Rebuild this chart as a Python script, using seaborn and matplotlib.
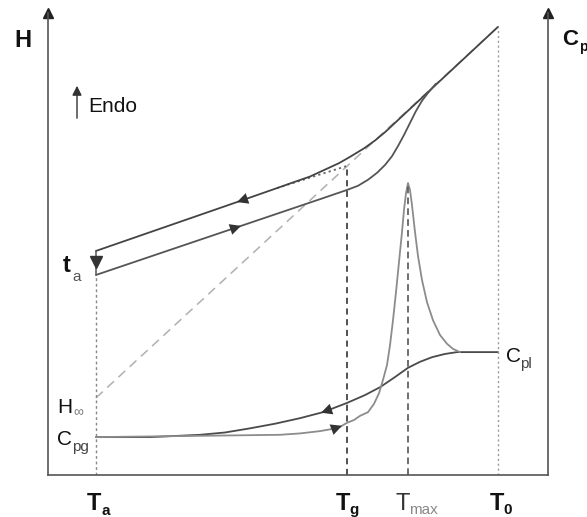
import numpy as np
import pandas as pd
import matplotlib
matplotlib.use("Agg")
import matplotlib.pyplot as plt
import seaborn as sns

# ---------------- data (arbitrary units) ----------------
T_a, T_g, T_max, T_0 = 9.6, 59.8, 72.0, 90.0

# enthalpy on cooling (glass line bending into the liquid line)
cool_H_T = [9.6, 38.4, 45.8, 49.2, 52.4, 55.4, 58.2, 60.3, 63.2, 65.4, 67.4, 90.0]
cool_H_v = [48.5, 59.3, 62.1, 63.4, 64.6, 66.1, 67.5, 68.8, 70.7, 72.4, 74.2, 97.0]

# enthalpy on heating after ageing at Ta
heat_H_T = [9.6, 38.0, 54.4, 59.8, 62.0, 64.0, 65.8, 67.4, 68.8, 70.0, 71.2,
            72.4, 73.6, 74.8, 76.0, 77.6]
heat_H_v = [43.3, 53.7, 59.7, 61.7, 62.6, 63.9, 65.4, 67.1, 69.0, 71.2, 73.6,
            76.2, 78.8, 81.0, 82.7, 84.7]

# extrapolated liquid line (H_inf at Ta) and extrapolated glass line
liq_T = [9.6, 90.0]
liq_H = [16.7, 97.0]
glass_ext_T = [45.8, 59.8]
glass_ext_H = [62.1, 66.9]

# heat capacity on cooling
cool_Cp_T = [9.6, 20.4, 30.4, 35.4, 40.4, 45.4, 50.4, 55.0, 59.8, 63.4, 66.4,
             69.4, 72.0, 74.4, 76.8, 79.4, 81.8, 90.0]
cool_Cp_v = [8.2, 8.2, 8.7, 9.2, 10.1, 11.1, 12.3, 13.6, 15.6, 17.3, 19.0,
             21.2, 23.2, 24.5, 25.5, 26.2, 26.6, 26.6]

# heat capacity on heating (overshoot peak at Tmax)
heat_Cp_T = [9.6, 46.4, 50.4, 54.4, 57.0, 58.4, 59.8, 61.2, 62.4, 64.0, 65.2,
             66.2, 67.0, 67.8, 68.4, 69.0, 69.6, 70.2, 70.8, 71.2, 71.6, 72.0,
             72.4, 72.8, 73.4, 74.0, 74.8, 75.8, 77.0, 78.4, 79.8, 81.0, 82.4]
heat_Cp_v = [8.2, 8.7, 9.0, 9.5, 10.0, 10.4, 11.3, 11.9, 12.8, 13.6, 15.4,
             17.7, 20.6, 23.8, 28.1, 33.5, 39.6, 46.1, 52.6, 57.4, 61.0, 63.2,
             61.7, 58.4, 52.6, 47.4, 42.2, 37.4, 33.5, 30.3, 28.4, 27.3, 26.6]

# ---------------- figure ----------------
sns.set_theme(style="white")
plt.rcParams["font.family"] = ["Liberation Sans", "DejaVu Sans"]

W, Hpx = 587, 517
fig = plt.figure(figsize=(W / 100, Hpx / 100), dpi=100)
ax = fig.add_axes([48 / W, 42 / Hpx, 500 / W, 462 / Hpx])
ax.set_xlim(0, 100)
ax.set_ylim(0, 100)


def fxy(px, py):
    return px / W, 1 - py / Hpx


def curve(T, v, **kw):
    df = pd.DataFrame({"T": T, "v": v})
    sns.lineplot(data=df, x="T", y="v", sort=False, estimator=None, ax=ax, **kw)


# reference lines
curve(liq_T, liq_H, color="#b0b0b0", lw=1.1, linestyle=(0, (6, 4)))
curve(glass_ext_T, glass_ext_H, color="#666666", lw=1.3, linestyle=(0, (1.2, 1.8)))

# enthalpy curves
curve(cool_H_T, cool_H_v, color="#444444", lw=1.3)
curve(heat_H_T, heat_H_v, color="#555555", lw=1.3)

# heat-capacity curves
curve(cool_Cp_T, cool_Cp_v, color="#4a4a4a", lw=1.3)
curve(heat_Cp_T, heat_Cp_v, color="#8c8c8c", lw=1.3)

# vertical markers
ax.plot([T_a, T_a], [0, heat_H_v[0]], color="#888888", lw=1.0, linestyle=(0, (2, 2)))
ax.plot([T_a, T_a], [heat_H_v[0], cool_H_v[0]], color="#555555", lw=1.1)
ax.plot([T_a], [46.1], marker="v", color="#333333", markersize=8)
ax.plot([T_g, T_g], [0, glass_ext_H[1]], color="#222222", lw=1.1, linestyle=(0, (4, 3)))
ax.plot([T_max, T_max], [0, max(heat_Cp_v)], color="#555555", lw=1.2, linestyle=(0, (4, 2.5)))
ax.plot([T_0, T_0], [0, liq_H[1]], color="#999999", lw=1.0, linestyle=(0, (1.5, 2)))


def arrow_on(T, v, at, direction, color):
    y1 = np.interp(at, T, v)
    d = 1.2 * direction
    y0 = np.interp(at - d, T, v)
    ax.annotate("", xy=(at, y1), xytext=(at - d, y0),
                arrowprops=dict(arrowstyle="-|>", color=color, lw=0,
                                mutation_scale=20, shrinkA=0, shrinkB=0))


arrow_on(cool_H_T, cool_H_v, 37.8, -1, "#333333")
arrow_on(heat_H_T, heat_H_v, 38.6, 1, "#333333")
arrow_on(cool_Cp_T, cool_Cp_v, 54.6, -1, "#333333")
arrow_on(heat_Cp_T, heat_Cp_v, 58.8, 1, "#333333")

# spines
for s in ["left", "right", "bottom"]:
    ax.spines[s].set_color("#555555")
    ax.spines[s].set_linewidth(1.2)
ax.spines["top"].set_visible(False)
ax.set_xticks([])
ax.set_yticks([])
ax.set_xlabel("")
ax.set_ylabel("")
for xa in (0, 1):
    ax.plot([xa], [1.0], marker="^", color="#222222", markersize=7,
            transform=ax.transAxes, clip_on=False)

# ---------------- texts ----------------
def ftext(px, py, s, size, bold=False, color="#111111"):
    x, y = fxy(px, py)
    fig.text(x, y, s, fontsize=size, fontweight="bold" if bold else "normal",
             color=color, ha="left", va="baseline")


ftext(14, 47, "H", 17, bold=True)
ftext(562, 45, "C", 16, bold=True)
ftext(579, 51, "p", 10, bold=True)

# Endo arrow
fig.add_artist(matplotlib.patches.FancyArrowPatch(
    fxy(77, 121), fxy(77, 83), transform=fig.transFigure,
    arrowstyle="-|>", mutation_scale=14, color="#333333", lw=1.0))
ftext(88, 112, "Endo", 15)

ftext(63, 272, "t", 17, bold=True)
ftext(72, 281, "a", 11, color="#555555")
ftext(57, 413, "H", 15)
ftext(73, 416, "∞", 10, color="#777777")
ftext(57, 445, "C", 15)
ftext(72, 451, "pg", 11, color="#444444")
ftext(506, 362, "C", 15)
ftext(520, 368, "pl", 11, color="#444444")

ftext(87, 510, "T", 17, bold=True)
ftext(101, 515, "a", 11, bold=True)
ftext(336, 510, "T", 17, bold=True)
ftext(349, 514, "g", 11, bold=True)
ftext(396, 510, "T", 17, color="#333333")
ftext(409, 514, "max", 11, color="#888888")
ftext(490, 510, "T", 17, bold=True)
ftext(503, 514, "0", 11, bold=True)

fig.savefig("out.png", dpi=100)
